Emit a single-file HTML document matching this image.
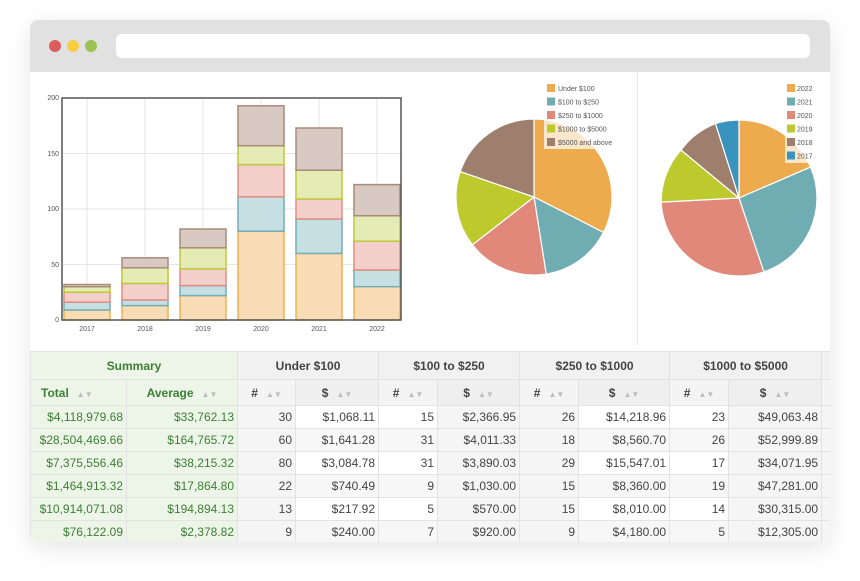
<!DOCTYPE html>
<html><head><meta charset="utf-8"><style>
*{margin:0;padding:0;box-sizing:border-box}
body{width:860px;height:581px;background:#fff;position:relative;overflow:hidden;font-family:"Liberation Sans",sans-serif}
.win{position:absolute;left:30px;top:20px;width:800px;height:522px;background:#fff;border-radius:8px;overflow:hidden;box-shadow:0 6px 24px rgba(0,0,0,0.10)}
.bar{position:absolute;left:0;top:0;width:800px;height:52px;background:#e1e1e1}
.dot{position:absolute;top:20px;width:12px;height:12px;border-radius:6px}
.addr{position:absolute;left:86px;top:14px;width:694px;height:24px;background:#fff;border-radius:6px}
table{position:absolute;left:0;top:331px;width:831px;border-collapse:collapse;font-size:12px;color:#444;table-layout:fixed}
td{height:23px;border:1px solid #e3e3e3;text-align:right;padding-right:3px;white-space:nowrap;overflow:hidden}
tr.h1 td{height:28px;text-align:center;font-weight:bold;background:#f1f1f1;padding:0}
tr.h2 td{height:26px;text-align:center;font-weight:bold;background:#f4f4f4;padding:0}
td.g{background:#edf5e9;color:#3d7f35}
tr.h1 td.g,tr.h2 td.g{background:#edf5e9;color:#3d7f35}
td.n{background:#f5f5f5}
td.w{background:#fff}
td.w2{background:#f7f7f7}
.s{color:#bbb;font-size:8px;margin-left:8px}
</style></head><body>
<div class="win">
<div class="bar"><div class="dot" style="left:19px;background:#da5e5e"></div><div class="dot" style="left:37px;background:#f8cd3f"></div><div class="dot" style="left:55px;background:#9cc256"></div><div class="addr"></div></div>
</div>
<svg style="position:absolute;left:0;top:0" width="860" height="350" font-family="Liberation Sans, sans-serif">
<g stroke="#e6e6e6" stroke-width="1">
<line x1="62" y1="264.5" x2="401" y2="264.5"/><line x1="62" y1="209" x2="401" y2="209"/><line x1="62" y1="153.5" x2="401" y2="153.5"/>
<line x1="87" y1="98" x2="87" y2="320"/><line x1="145" y1="98" x2="145" y2="320"/><line x1="203" y1="98" x2="203" y2="320"/><line x1="261" y1="98" x2="261" y2="320"/><line x1="319" y1="98" x2="319" y2="320"/><line x1="377" y1="98" x2="377" y2="320"/>
</g>
<g font-size="7" fill="#555" text-anchor="end"><text x="59" y="322">0</text><text x="59" y="267">50</text><text x="59" y="211">100</text><text x="59" y="156">150</text><text x="59" y="100">200</text></g>
<g font-size="7" fill="#555" text-anchor="middle"><text x="87" y="331">2017</text><text x="145" y="331">2018</text><text x="203" y="331">2019</text><text x="261" y="331">2020</text><text x="319" y="331">2021</text><text x="377" y="331">2022</text></g>
<g stroke-width="1.5">
<rect x="64" y="310" width="46" height="10" fill="#f8dcb5" stroke="#efb04f"/>
<rect x="64" y="302.2" width="46" height="7.8" fill="#c6dfe2" stroke="#74aeb5"/>
<rect x="64" y="292.2" width="46" height="10" fill="#f3d0cb" stroke="#e38e80"/>
<rect x="64" y="286.7" width="46" height="5.5" fill="#e4ebb4" stroke="#bfc93a"/>
<rect x="64" y="284.5" width="46" height="2.2" fill="#d8cac2" stroke="#a88b7a"/>
<rect x="122" y="305.6" width="46" height="14.4" fill="#f8dcb5" stroke="#efb04f"/>
<rect x="122" y="300" width="46" height="5.6" fill="#c6dfe2" stroke="#74aeb5"/>
<rect x="122" y="283.4" width="46" height="16.6" fill="#f3d0cb" stroke="#e38e80"/>
<rect x="122" y="267.8" width="46" height="15.6" fill="#e4ebb4" stroke="#bfc93a"/>
<rect x="122" y="257.8" width="46" height="10" fill="#d8cac2" stroke="#a88b7a"/>
<rect x="180" y="295.6" width="46" height="24.4" fill="#f8dcb5" stroke="#efb04f"/>
<rect x="180" y="285.6" width="46" height="10" fill="#c6dfe2" stroke="#74aeb5"/>
<rect x="180" y="268.9" width="46" height="16.7" fill="#f3d0cb" stroke="#e38e80"/>
<rect x="180" y="247.8" width="46" height="21.1" fill="#e4ebb4" stroke="#bfc93a"/>
<rect x="180" y="229" width="46" height="18.8" fill="#d8cac2" stroke="#a88b7a"/>
<rect x="238" y="231.2" width="46" height="88.8" fill="#f8dcb5" stroke="#efb04f"/>
<rect x="238" y="196.8" width="46" height="34.4" fill="#c6dfe2" stroke="#74aeb5"/>
<rect x="238" y="164.6" width="46" height="32.2" fill="#f3d0cb" stroke="#e38e80"/>
<rect x="238" y="145.7" width="46" height="18.9" fill="#e4ebb4" stroke="#bfc93a"/>
<rect x="238" y="105.8" width="46" height="39.9" fill="#d8cac2" stroke="#a88b7a"/>
<rect x="296" y="253.4" width="46" height="66.6" fill="#f8dcb5" stroke="#efb04f"/>
<rect x="296" y="219" width="46" height="34.4" fill="#c6dfe2" stroke="#74aeb5"/>
<rect x="296" y="199" width="46" height="20" fill="#f3d0cb" stroke="#e38e80"/>
<rect x="296" y="170.2" width="46" height="28.8" fill="#e4ebb4" stroke="#bfc93a"/>
<rect x="296" y="128" width="46" height="42.2" fill="#d8cac2" stroke="#a88b7a"/>
<rect x="354" y="286.7" width="46" height="33.3" fill="#f8dcb5" stroke="#efb04f"/>
<rect x="354" y="270" width="46" height="16.7" fill="#c6dfe2" stroke="#74aeb5"/>
<rect x="354" y="241.2" width="46" height="28.8" fill="#f3d0cb" stroke="#e38e80"/>
<rect x="354" y="215.7" width="46" height="25.5" fill="#e4ebb4" stroke="#bfc93a"/>
<rect x="354" y="184.6" width="46" height="31.1" fill="#d8cac2" stroke="#a88b7a"/>
</g>
<rect x="62" y="98" width="339" height="222" fill="none" stroke="#555" stroke-width="1.5"/>
<line x1="637.5" y1="72" x2="637.5" y2="345" stroke="#e6e6e6"/>
<g stroke="#fff" stroke-width="1.2">
<path d="M534,197 L534,119 A78,78 0 0 1 603.5,232.4Z" fill="#eeab4e"/>
<path d="M534,197 L603.5,232.4 A78,78 0 0 1 546.2,274.1Z" fill="#6fadb3"/>
<path d="M534,197 L546.2,274.1 A78,78 0 0 1 472.4,244.8Z" fill="#e0887a"/>
<path d="M534,197 L472.4,244.8 A78,78 0 0 1 460.2,171.6Z" fill="#bec92e"/>
<path d="M534,197 L460.2,171.6 A78,78 0 0 1 534,119Z" fill="#9e7e6c"/>
<path d="M739,198 L739,120 A78,78 0 0 1 810.6,167.1Z" fill="#eeab4e"/>
<path d="M739,198 L810.6,167.1 A78,78 0 0 1 763.9,271.9Z" fill="#6fadb3"/>
<path d="M739,198 L763.9,271.9 A78,78 0 0 1 661.1,202.1Z" fill="#e0887a"/>
<path d="M739,198 L661.1,202.1 A78,78 0 0 1 681,150Z" fill="#bec92e"/>
<path d="M739,198 L681,150 A78,78 0 0 1 715.5,123.6Z" fill="#9e7e6c"/>
<path d="M739,198 L715.5,123.6 A78,78 0 0 1 739,120Z" fill="#3a92bf"/>
</g>
<rect x="544" y="82" width="68" height="67" fill="#fff" fill-opacity="0.7"/>
<g font-size="7" fill="#555">
<rect x="547" y="84" width="8" height="8" fill="#eeab4e"/><text x="558" y="91">Under $100</text>
<rect x="547" y="97.5" width="8" height="8" fill="#6fadb3"/><text x="558" y="104.5">$100 to $250</text>
<rect x="547" y="111" width="8" height="8" fill="#e0887a"/><text x="558" y="118">$250 to $1000</text>
<rect x="547" y="124.5" width="8" height="8" fill="#bec92e"/><text x="558" y="131.5">$1000 to $5000</text>
<rect x="547" y="138" width="8" height="8" fill="#9e7e6c"/><text x="558" y="145">$5000 and above</text>
</g>
<rect x="785" y="82" width="30" height="81" fill="#fff" fill-opacity="0.7"/>
<g font-size="7" fill="#555">
<rect x="787" y="84" width="8" height="8" fill="#eeab4e"/><text x="797" y="91">2022</text>
<rect x="787" y="97.5" width="8" height="8" fill="#6fadb3"/><text x="797" y="104.5">2021</text>
<rect x="787" y="111" width="8" height="8" fill="#e0887a"/><text x="797" y="118">2020</text>
<rect x="787" y="124.5" width="8" height="8" fill="#bec92e"/><text x="797" y="131.5">2019</text>
<rect x="787" y="138" width="8" height="8" fill="#9e7e6c"/><text x="797" y="145">2018</text>
<rect x="787" y="151.5" width="8" height="8" fill="#3a92bf"/><text x="797" y="158.5">2017</text>
</g>
</svg>
<div style="position:absolute;left:30px;top:20px;width:800px;height:522px;overflow:hidden;border-radius:8px">
<table>
<colgroup><col style="width:96px"><col style="width:111px"><col style="width:58px"><col style="width:83px"><col style="width:59px"><col style="width:82px"><col style="width:59px"><col style="width:91px"><col style="width:59px"><col style="width:93px"><col style="width:40px"></colgroup>
<tr class="h1"><td class="g" colspan="2">Summary</td><td colspan="2">Under $100</td><td colspan="2">$100 to $250</td><td colspan="2">$250 to $1000</td><td colspan="2">$1000 to $5000</td><td></td></tr>
<tr class="h2"><td class="g" style="text-align:left;padding-left:10px">Total<span class="s">▲▼</span></td><td class="g">Average<span class="s">▲▼</span></td><td>#<span class="s">▲▼</span></td><td style="background:#efefef">$<span class="s">▲▼</span></td><td>#<span class="s">▲▼</span></td><td style="background:#efefef">$<span class="s">▲▼</span></td><td>#<span class="s">▲▼</span></td><td style="background:#efefef">$<span class="s">▲▼</span></td><td>#<span class="s">▲▼</span></td><td style="background:#efefef">$<span class="s">▲▼</span></td><td></td></tr>
<tr><td class="g">$4,118,979.68</td><td class="g">$33,762.13</td><td class="n">30</td><td class="w">$1,068.11</td><td class="w">15</td><td class="n">$2,366.95</td><td class="n">26</td><td class="w">$14,218.96</td><td class="w">23</td><td class="n">$49,063.48</td><td class="n"></td></tr>
<tr><td class="g">$28,504,469.66</td><td class="g">$164,765.72</td><td class="n">60</td><td class="w2">$1,641.28</td><td class="w2">31</td><td class="n">$4,011.33</td><td class="n">18</td><td class="w2">$8,560.70</td><td class="w2">26</td><td class="n">$52,999.89</td><td class="n"></td></tr>
<tr><td class="g">$7,375,556.46</td><td class="g">$38,215.32</td><td class="n">80</td><td class="w">$3,084.78</td><td class="w">31</td><td class="n">$3,890.03</td><td class="n">29</td><td class="w">$15,547.01</td><td class="w">17</td><td class="n">$34,071.95</td><td class="n"></td></tr>
<tr><td class="g">$1,464,913.32</td><td class="g">$17,864.80</td><td class="n">22</td><td class="w2">$740.49</td><td class="w2">9</td><td class="n">$1,030.00</td><td class="n">15</td><td class="w2">$8,360.00</td><td class="w2">19</td><td class="n">$47,281.00</td><td class="n"></td></tr>
<tr><td class="g">$10,914,071.08</td><td class="g">$194,894.13</td><td class="n">13</td><td class="w">$217.92</td><td class="w">5</td><td class="n">$570.00</td><td class="n">15</td><td class="w">$8,010.00</td><td class="w">14</td><td class="n">$30,315.00</td><td class="n"></td></tr>
<tr><td class="g">$76,122.09</td><td class="g">$2,378.82</td><td class="n">9</td><td class="w2">$240.00</td><td class="w2">7</td><td class="n">$920.00</td><td class="n">9</td><td class="w2">$4,180.00</td><td class="w2">5</td><td class="n">$12,305.00</td><td class="n"></td></tr>
</table>
</div>
</body></html>
